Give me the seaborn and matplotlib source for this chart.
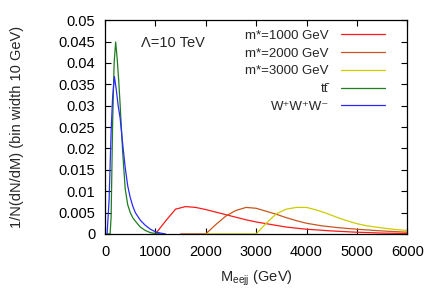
import pandas as pd
import matplotlib
matplotlib.use('Agg')
import matplotlib.pyplot as plt
import seaborn as sns

# values (GeV, normalised counts per 10 GeV bin)
m1000_x = [1000, 1200, 1400, 1600, 1800, 2000, 2200, 2400, 2600, 2800, 3000,
           3300, 3600, 4000, 4500, 5000, 5500, 6000]
m1000_y = [0.0, 0.0030, 0.0058, 0.0064, 0.0062, 0.0057, 0.0051, 0.0045, 0.0039,
           0.0033, 0.0028, 0.0022, 0.0016, 0.0011, 0.0007, 0.0004, 0.0002, 0.0001]

m2000_x = [1500, 2000, 2200, 2400, 2600, 2800, 3000, 3200, 3400, 3600, 3800,
           4000, 4300, 4600, 5000, 5500, 6000]
m2000_y = [0.0, 0.0, 0.0022, 0.0042, 0.0055, 0.0062, 0.0060, 0.0053, 0.0046,
           0.0038, 0.0031, 0.0025, 0.0019, 0.0015, 0.0011, 0.0007, 0.0004]

m3000_x = [2000, 3000, 3200, 3400, 3600, 3800, 4000, 4200, 4400, 4600, 4800,
           5000, 5200, 5500, 5800, 6000]
m3000_y = [0.0, 0.0, 0.0025, 0.0047, 0.0058, 0.0062, 0.0062, 0.0056, 0.0048,
           0.0039, 0.0031, 0.0024, 0.0019, 0.0014, 0.0010, 0.0008]

tt_x = [0, 100, 120, 150, 180, 210, 240, 270, 300, 350, 400, 450, 500, 550,
        600, 700, 800, 900, 1000, 1100]
tt_y = [0.0, 0.0, 0.004, 0.026, 0.040, 0.0449, 0.041, 0.036, 0.030, 0.019,
        0.0105, 0.0068, 0.0050, 0.0038, 0.0030, 0.0016, 0.0008, 0.0003,
        0.0001, 0.0]

www_x = [40, 80, 120, 150, 185, 220, 260, 300, 350, 400, 450, 500, 550, 600,
         650, 700, 800, 900, 1000, 1100, 1200]
www_y = [0.0, 0.008, 0.024, 0.032, 0.0368, 0.034, 0.030, 0.027, 0.021, 0.0155,
         0.0112, 0.0085, 0.0065, 0.0050, 0.0041, 0.0032, 0.0020, 0.0011,
         0.0005, 0.0002, 0.0]

labels = ['m*=1000 GeV', 'm*=2000 GeV', 'm*=3000 GeV', 't\u0074\u0304',
          'W\u207aW\u207aW\u207b']
colors = ['#ff1a1a', '#c8561e', '#cccc00', '#1e7d1e', '#2a2aff']

x_ticks = [0, 1000, 2000, 3000, 4000, 5000, 6000]
y_ticks = [0, 0.005, 0.01, 0.015, 0.02, 0.025, 0.03, 0.035, 0.04, 0.045, 0.05]
y_tick_labels = ['0', '0.005', '0.01', '0.015', '0.02', '0.025', '0.03',
                 '0.035', '0.04', '0.045', '0.05']

frames = []
for lab, xs, ys in zip(labels, [m1000_x, m2000_x, m3000_x, tt_x, www_x],
                       [m1000_y, m2000_y, m3000_y, tt_y, www_y]):
    frames.append(pd.DataFrame({'M': xs, 'val': ys, 'sample': lab}))
df = pd.concat(frames, ignore_index=True)

sns.set_style('ticks')
plt.rcParams['font.family'] = ['Liberation Sans', 'DejaVu Sans']
plt.rcParams['mathtext.fontset'] = 'custom'
plt.rcParams['mathtext.rm'] = 'Liberation Sans'
plt.rcParams['mathtext.it'] = 'Liberation Sans'

fig = plt.figure(figsize=(4.36, 3.05), dpi=100)
ax = fig.add_axes([0.241, 0.233, 0.693, 0.701])

sns.lineplot(data=df, x='M', y='val', hue='sample', hue_order=labels,
             palette=colors, linewidth=0.9, sort=False, ax=ax)

ax.set_xlim(0, 6000)
ax.set_ylim(0, 0.05)
ax.set_xticks(x_ticks)
ax.set_yticks(y_ticks)
ax.set_yticklabels(y_tick_labels)
ax.tick_params(direction='in', length=4, width=0.8, top=True, right=True,
               labelsize=10.5, colors='black')
ax.tick_params(axis='y', pad=7)
ax.tick_params(axis='x', pad=8)
for s in ax.spines.values():
    s.set_visible(True)
    s.set_color('black')
    s.set_linewidth(0.9)

ax.set_xlabel(r'M$_{\mathregular{eejj}}$ (GeV)', fontsize=10.5, labelpad=7)
ax.set_ylabel('1/N(dN/dM) (bin width 10 GeV)', fontsize=10.5, labelpad=25)
ax.text(0.12, 0.892, r'Λ=10 TeV', transform=ax.transAxes, fontsize=10.5,
        ha='left', va='center')

leg = ax.legend(loc='upper right', bbox_to_anchor=(0.963, 1.005), frameon=False,
                markerfirst=False, fontsize=9.5, handlelength=3.4,
                handletextpad=0.9, labelspacing=0.42, borderpad=0.3)
for line in leg.get_lines():
    line.set_linewidth(0.9)

fig.savefig('out.png', dpi=100)
